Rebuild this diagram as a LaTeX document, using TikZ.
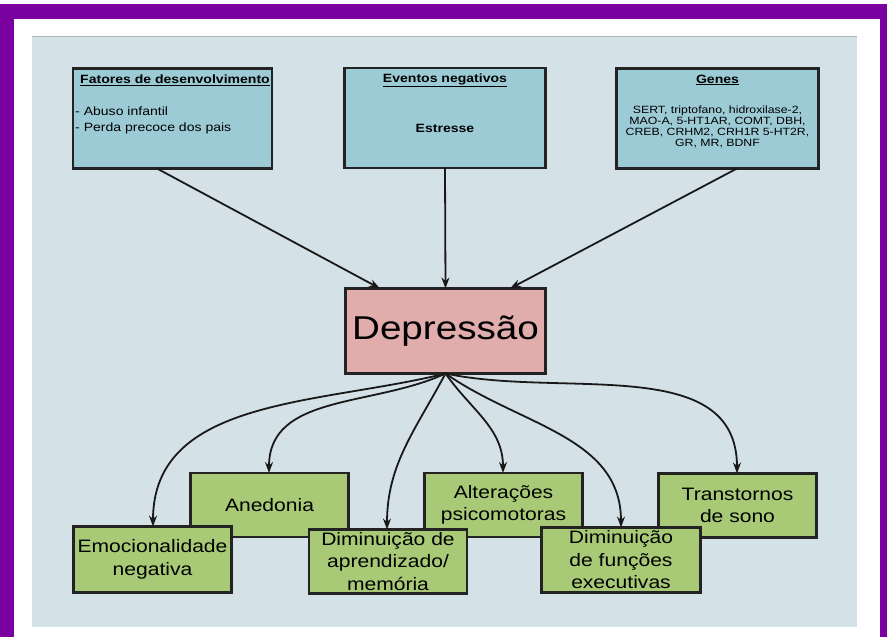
\documentclass[tikz,border=0pt]{standalone}
\usepackage{fontspec}
\setmainfont[FakeStretch=1.17]{Liberation Sans}
\usetikzlibrary{arrows.meta}
\definecolor{purp}{RGB}{122,0,160}
\definecolor{panel}{RGB}{212,225,231}
\definecolor{bluebox}{RGB}{156,203,214}
\definecolor{pinkbox}{RGB}{224,172,172}
\definecolor{greenbox}{RGB}{168,202,118}
\definecolor{edge}{RGB}{35,35,35}
\begin{document}
\begin{tikzpicture}[x=1pt,y=1pt,
 box/.style={draw=edge, line width=2.8pt, inner sep=0pt, outer sep=0pt},
 topbox/.style={box, fill=bluebox, minimum width=199pt, minimum height=100pt},
 botbox/.style={box, fill=greenbox, minimum width=158pt, minimum height=64pt, align=center, font=\fontsize{18}{22.5}\selectfont},
 arr/.style={draw=black!90, line width=1.8pt, -{Stealth[length=11pt,width=8pt]}},
 ttl/.style={font=\fontsize{12}{14}\selectfont\bfseries, inner sep=0pt},
 txt/.style={inner sep=0pt}
]
\useasboundingbox (0,0) rectangle (887,637);
\fill[white] (0,0) rectangle (887,637);
\fill[purp] (0,618) rectangle (887,633);
\fill[purp] (0,0) rectangle (14,633);
\fill[purp] (880,0) rectangle (887,633);
\fill[panel] (32,10) rectangle (857,600);
\draw[gray!60, line width=1pt] (32,600) -- (857,600);

% top boxes
\node[topbox] (fat) at (172.5,518.5) {};
\node[topbox, minimum width=201pt] (evt) at (445,519) {};
\node[topbox, minimum width=202pt] (gen) at (717.5,518.5) {};
\node[ttl, anchor=west] (tfat) at (80,557) {\underline{Fatores de desenvolvimento}};
\node[txt, anchor=west, align=left, font=\fontsize{12}{16}\selectfont] (lfat) at (75,517) {- Abuso infantil\\- Perda precoce dos pais};
\node[ttl] (tevt) at (445,557) {\underline{Eventos negativos}};
\node[ttl] (levt) at (445,509) {Estresse};
\node[ttl] (tgen) at (717.5,557) {\underline{Genes}};
\node[txt, align=center, font=\fontsize{10.5}{11}\selectfont] (lgen) at (717.5,510.5) {SERT, triptofano, hidroxilase-2,\\MAO-A, 5-HT1AR, COMT, DBH,\\CREB, CRHM2, CRH1R 5-HT2R,\\GR, MR, BDNF};

% central box
\node[box, fill=pinkbox, minimum width=200pt, minimum height=85pt, font=\fontsize{33}{38}\selectfont] (dep) at (445.5,306) {Depressão};

% bottom boxes (upper row first)
\node[botbox] (ane) at (269.5,132) {Anedonia};
\node[botbox] (alt) at (503.5,132) {Alterações\\psicomotoras};
\node[botbox] (tra) at (737.5,131.5) {Transtornos\\de sono};
\node[botbox, minimum height=66pt] (emo) at (152.5,77.5) {Emocionalidade\\negativa};
\node[botbox, minimum height=64pt] (apr) at (388,75.5) {Diminuição de\\aprendizado/\\memória};
\node[botbox, minimum width=159pt, minimum height=65pt] (fun) at (621,77) {Diminuição\\de funções\\executivas};

% arrows into Depressão
\draw[arr] (fat.south -| 157,0) -- (dep.north -| 380,0);
\draw[arr] (evt.south) -- (dep.north);
\draw[arr] (gen.south -| 737,0) -- (dep.north -| 510,0);

% arrows out of Depressão
\draw[arr] (dep.south) to[out=194, in=90] (emo.north -| 153,0);
\draw[arr] (dep.south) to[out=205, in=90] (ane.north -| 269,0);
\draw[arr] (dep.south) to[out=242, in=90] (apr.north -| 387,0);
\draw[arr] (dep.south) to[out=-55, in=90] (alt.north -| 503,0);
\draw[arr] (dep.south) to[out=-35, in=90] (fun.north -| 621,0);
\draw[arr] (dep.south) to[out=-12, in=90] (tra.north -| 737,0);
\end{tikzpicture}
\end{document}
